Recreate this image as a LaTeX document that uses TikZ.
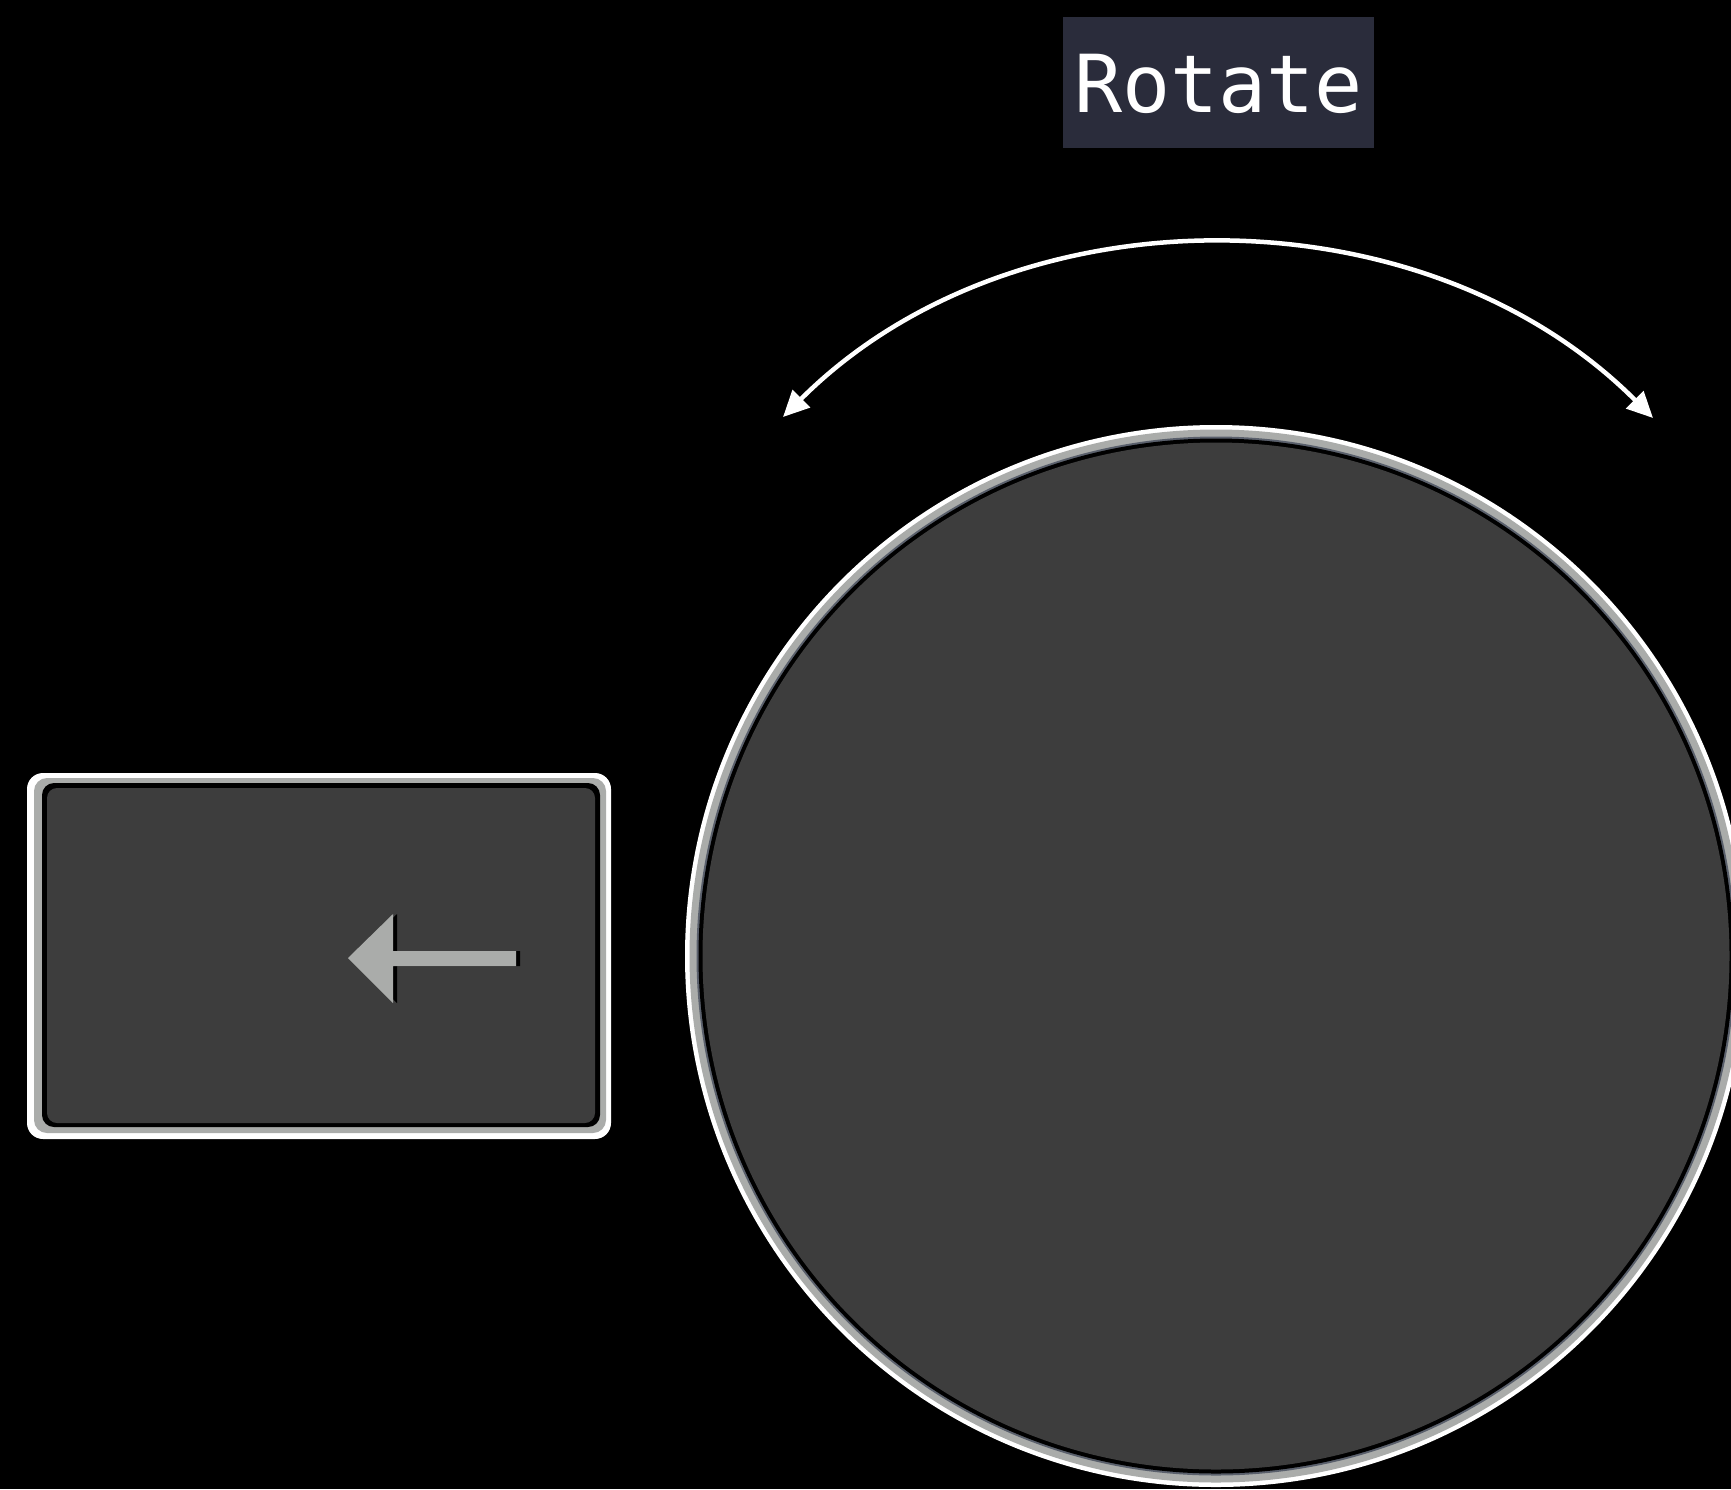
\documentclass[tikz,border=0pt]{standalone}
\usepackage{fontspec}
\newfontfamily\monofont{DejaVu Sans Mono}
\usetikzlibrary{arrows.meta}
\definecolor{labelbg}{RGB}{42,44,59}
\definecolor{ringgrey}{RGB}{170,172,170}
\definecolor{ringblue}{RGB}{90,96,108}
\definecolor{padfill}{RGB}{61,61,61}
\definecolor{glyphgrey}{RGB}{170,172,170}
\tikzset{
  labelbox/.style={fill=labelbg, text=white, inner sep=0pt, minimum width=311pt, minimum height=131pt,
    font=\monofont\fontsize{80}{80}\selectfont, text height=59pt, text depth=0pt},
  rotarrow/.style={draw=white, line width=4.5pt, {Triangle[length=26pt,width=24pt]}-{Triangle[length=26pt,width=24pt]}},
}
\begin{document}
\begin{tikzpicture}[x=1pt,y=1pt]
\fill[black] (0,0) rectangle (1731,-1489);
\useasboundingbox (0,0) rectangle (1731,-1489);

% label
\node[labelbox] (label) at (1218.5,-82.5) {Rotate};

% rotate arrow
\coordinate (arcL) at (783,-417);
\coordinate (arcR) at (1653,-418);
\draw[rotarrow] (arcL) to[out=45,in=135,looseness=0.96] (arcR);

% dial
\node[circle, inner sep=0pt, minimum size=1062pt, fill=white] (dial) at (1216,-956) {};
\fill[ringgrey] (dial.center) circle (526.5);
\fill[ringblue] (dial.center) circle (519.5);
\fill[black] (dial.center) circle (517.5);
\fill[padfill] (dial.center) circle (513.5);

% key
\node[rectangle, rounded corners=16pt, inner sep=0pt, minimum width=584pt, minimum height=366pt, fill=white] (key) at (319,-956) {};
\fill[ringgrey, rounded corners=13pt] (34,-778) rectangle (606,-1133);
\fill[black, rounded corners=12pt] (42,-783) rectangle (600,-1127);
\fill[padfill, rounded corners=10pt] (47,-788) rectangle (595,-1123);

% left arrow glyph with shadow
\fill[black] (352,-958) -- (397,-914) -- (397,-951) -- (520,-951) -- (520,-966) -- (397,-966) -- (397,-1003) -- cycle;
\fill[glyphgrey] (348,-958) -- (393,-914) -- (393,-951) -- (516,-951) -- (516,-966) -- (393,-966) -- (393,-1003) -- cycle;
\end{tikzpicture}
\end{document}
